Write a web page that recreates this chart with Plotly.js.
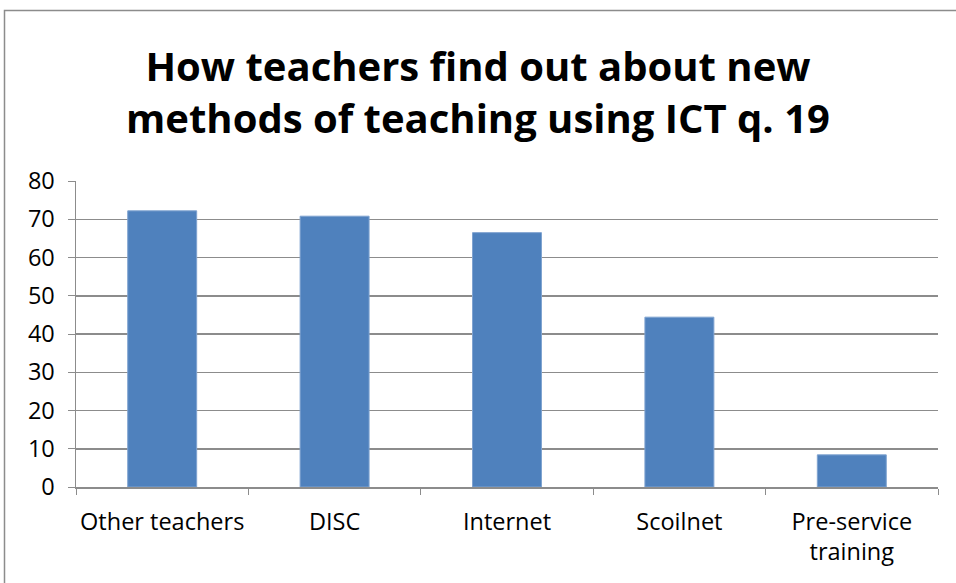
<!DOCTYPE html>
<html>
<head>
<meta charset="utf-8">
<script src="https://cdn.plot.ly/plotly-3.0.1.min.js"></script>
<style>html,body{margin:0;padding:0;background:#fff;}#chart{width:956px;height:583px;}</style>
</head>
<body>
<div id="chart"></div>
<script>
const categories = ["Other teachers", "DISC", "Internet", "Scoilnet", "Pre-service<br>training"];
const values = [72.2, 70.8, 66.5, 44.4, 8.4];
const yTicks = [0, 10, 20, 30, 40, 50, 60, 70, 80];

const font = "'Open Sans', sans-serif";
const data = [{
  type: "bar",
  x: categories,
  y: values,
  marker: {color: "#4F81BD", line: {color: "#7FA3D0", width: 1}},
  width: 0.4,
  hoverinfo: "x+y"
}];
const layout = {
  width: 956, height: 583,
  margin: {l: 76, r: 18, t: 181, b: 96},
  paper_bgcolor: "#fff", plot_bgcolor: "#fff",
  showlegend: false,
  title: {
    text: "<b>How teachers find out about new<br>methods of teaching using ICT q. 19</b>",
    font: {family: font, size: 40, color: "#000"},
    x: 0.5, xanchor: "center", yref: "container", y: 0.861, yanchor: "top"
  },
  xaxis: {
    type: "category",
    showgrid: false,
    showline: true, linecolor: "#8c8c8c", linewidth: 1.5,
    ticks: "outside", tickson: "boundaries", ticklen: 6, tickcolor: "#8c8c8c",
    tickfont: {family: font, size: 23.5, color: "#000"},
    tickangle: 0,
    ticklabelstandoff: 13,
    fixedrange: true
  },
  yaxis: {
    range: [0, 80],
    tickvals: yTicks,
    showgrid: true, gridcolor: "#8c8c8c", gridwidth: 1.5,
    showline: true, linecolor: "#8c8c8c", linewidth: 1.5,
    ticks: "outside", ticklen: 7, tickcolor: "#8c8c8c",
    tickfont: {family: font, size: 23.5, color: "#000"},
    ticklabelstandoff: 8,
    zeroline: false,
    fixedrange: true
  },
  shapes: [{
    type: "rect", xref: "paper", yref: "paper",
    x0: (4.5 - 76) / 862, x1: (962 - 76) / 862,
    y0: (487 - 600) / 306, y1: 1 + (181 - 10.5) / 306,
    line: {color: "#8c8c8c", width: 1.5}, layer: "above"
  }]
};
Plotly.newPlot("chart", data, layout, {displayModeBar: false, staticPlot: true});
</script>
</body>
</html>
